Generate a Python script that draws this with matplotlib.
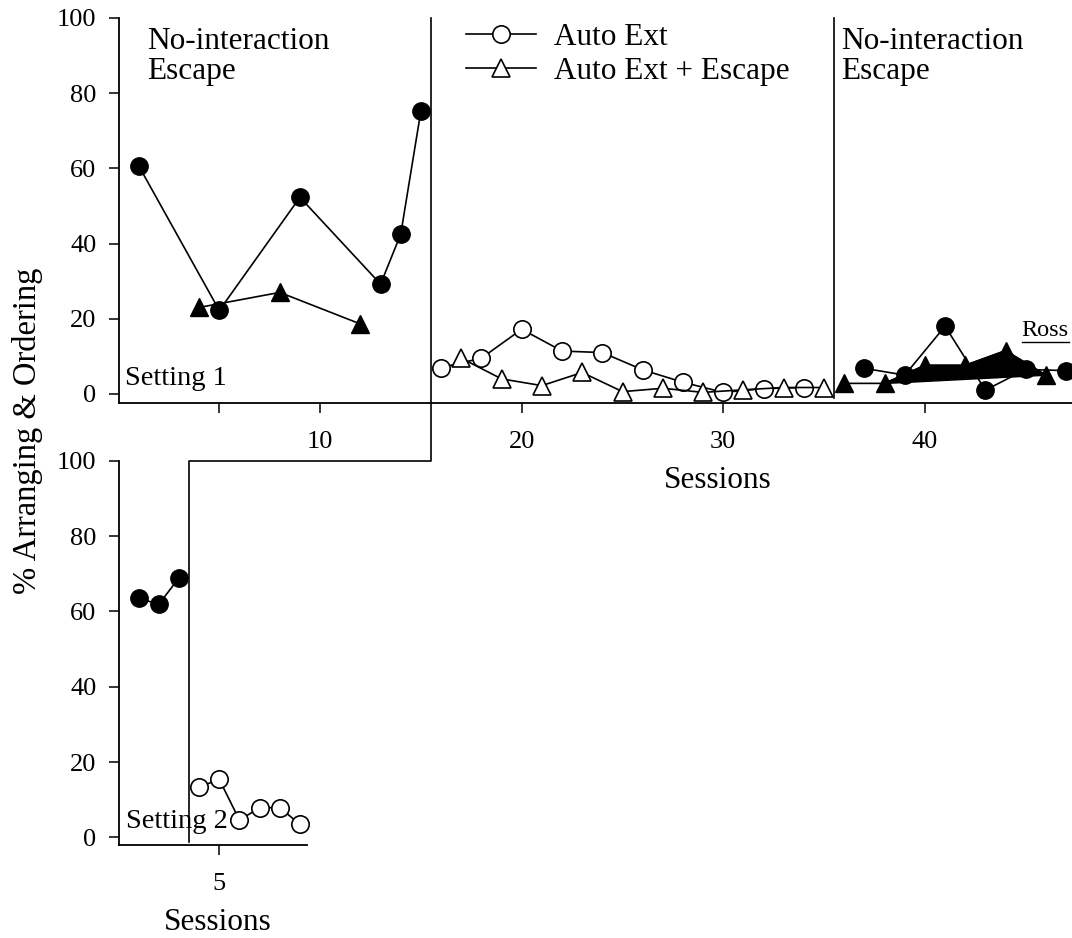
import matplotlib
matplotlib.use("Agg")
import matplotlib.pyplot as plt
from matplotlib.lines import Line2D

plt.rcParams['font.family'] = ['Liberation Serif', 'DejaVu Serif']

# Setting 1 -- phase 1 (no-interaction escape)
s1_base_x = [1, 5, 9, 13, 14, 15]
s1_base_y = [60.7, 22.2, 52.3, 29.2, 42.5, 75.3]
s1_esc_x = [4, 8, 12]
s1_esc_y = [23.0, 27.0, 18.6]

# Setting 1 -- phase 2 (auto ext / auto ext + escape)
s1_ae_x = [16, 18, 20, 22, 24, 26, 28, 30, 32, 34]
s1_ae_y = [7.0, 9.5, 17.2, 11.4, 11.0, 6.4, 3.1, 0.4, 1.4, 1.7]
s1_aee_x = [17, 19, 21, 23, 25, 27, 29, 31, 33, 35]
s1_aee_y = [9.5, 4.0, 2.2, 5.7, 0.6, 1.5, 0.4, 1.1, 1.7, 1.7]

# Setting 1 -- phase 3 (no-interaction escape again)
s1_base2_x = [37, 39, 41, 43, 45, 47]
s1_base2_y = [6.8, 5.0, 18.0, 1.0, 6.5, 6.2]
s1_esc2_x = [36, 38, 40, 42, 44, 46]
s1_esc2_y = [2.8, 2.8, 7.6, 7.6, 11.5, 5.0]

# Setting 2
s2_base_x = [1, 2, 3]
s2_base_y = [63.5, 61.9, 68.9]
s2_ae_x = [4, 5, 6, 7, 8, 9]
s2_ae_y = [13.4, 15.4, 4.6, 7.9, 7.9, 3.5]

yticks = [0, 20, 40, 60, 80, 100]
top_xticks = [5, 10, 20, 30, 40]
top_xticklabels = ['', '10', '20', '30', '40']

phase_top = [15.5, 35.5]
phase_bottom = 3.5

W, H = 1072, 938
fig = plt.figure(figsize=(W / 100, H / 100), dpi=100)
fig.set_facecolor('white')

# top panel runs off the right edge of the figure, like the reference
ax1 = fig.add_axes([118.5 / W, 1 - 403.3 / H, 1008 / W, 385.3 / H])
ax2 = fig.add_axes([118.5 / W, 1 - 845 / H, 188.5 / W, 384.3 / H])

lw = 1.2
filled = dict(color='black', lw=lw, markersize=12.5, markerfacecolor='black',
              markeredgecolor='black', clip_on=False, zorder=3)
opened = dict(color='black', lw=lw, markersize=12.5, markerfacecolor='white',
              markeredgecolor='black', markeredgewidth=1.2, clip_on=False, zorder=3)

ax1.plot(s1_base_x, s1_base_y, marker='o', **filled)
ax1.plot(s1_esc_x, s1_esc_y, marker='^', **dict(filled, markersize=13.5))
ax1.plot(s1_ae_x, s1_ae_y, marker='o', label='Auto Ext', **opened)
ax1.plot(s1_aee_x, s1_aee_y, marker='^', label='Auto Ext + Escape',
         **dict(opened, markersize=13.5))
ax1.plot(s1_base2_x, s1_base2_y, marker='o', **filled)
ax1.plot(s1_esc2_x, s1_esc2_y, marker='^', **dict(filled, markersize=13.5))
# the original render filled the last triangle series as a polygon
ax1.fill(s1_esc2_x[1:], s1_esc2_y[1:], color='black', lw=1.2, zorder=2)

ax2.plot(s2_base_x, s2_base_y, marker='o', **filled)
ax2.plot(s2_ae_x, s2_ae_y, marker='o', **opened)

for ax in (ax1, ax2):
    ax.spines['top'].set_visible(False)
    ax.spines['right'].set_visible(False)
    ax.spines['left'].set_linewidth(1.3)
    ax.spines['bottom'].set_linewidth(1.3)
    ax.set_yticks(yticks)
    ax.tick_params(axis='both', direction='out', length=7, width=1.1,
                   labelsize=19)
    ax.tick_params(axis='y', pad=9)
    ax.tick_params(axis='x', pad=13)
    ax.set_facecolor('none')

ax1.set_xlim(0, 50)
ax1.set_ylim(-2.5, 100)
ax1.set_xticks(top_xticks)
ax1.set_xticklabels(top_xticklabels)
ax1.set_xlabel('Sessions', fontsize=22.5)
ax1.xaxis.set_label_coords(0.594, -0.163)

ax2.set_xlim(0, 9.35)
ax2.set_ylim(-2, 100)
ax2.set_xticks([5])
ax2.set_xlabel('Sessions', fontsize=22.5)
ax2.xaxis.set_label_coords(0.528, -0.163)

fig.text(28 / W, 1 - 431 / H, '% Arranging & Ordering', rotation=90,
         ha='center', va='center', fontsize=23.5)

# phase labels
ax1.text(1.41, 97.5, 'No-interaction\nEscape', fontsize=22.5, va='top',
         ha='left', linespacing=1.05)
ax1.text(35.84, 97.5, 'No-interaction\nEscape', fontsize=22.5, va='top',
         ha='left', linespacing=1.05)
ax1.text(0.3, 2.4, 'Setting 1', fontsize=20.5, va='baseline', ha='left')
ax2.text(0.37, 2.5, 'Setting 2', fontsize=20.5, va='baseline', ha='left')

ross = ax1.text(44.8, 15.5, 'Ross', fontsize=17.5, va='baseline', ha='left')

ax1.legend(loc='upper left', bbox_to_anchor=(466 / W, 1 - 23 / H),
           bbox_transform=fig.transFigure, frameon=False, fontsize=22.5,
           handlelength=2.24, handletextpad=0.58, labelspacing=0.15,
           borderpad=0, borderaxespad=0)

# staggered phase-change line linking the two settings
to_fig = fig.transFigure.inverted()
p_a = to_fig.transform(ax1.transData.transform((phase_top[0], 100)))
p_b = to_fig.transform(ax2.transData.transform((phase_bottom, 100)))
p_c = to_fig.transform(ax2.transData.transform((phase_bottom, -1.2)))
fig.add_artist(Line2D([p_a[0], p_a[0], p_b[0], p_c[0]],
                      [p_a[1], p_b[1], p_b[1], p_c[1]],
                      transform=fig.transFigure, color='black', lw=1.2))
ax1.plot([phase_top[1], phase_top[1]], [100, -1.2], color='black', lw=1.2,
         clip_on=False, zorder=1)

# underline for "Ross"
fig.canvas.draw()
bb = ross.get_window_extent().transformed(to_fig)
fig.add_artist(Line2D([bb.x0, bb.x1], [bb.y0 - 0.001, bb.y0 - 0.001],
                      transform=fig.transFigure, color='black', lw=1.0))

fig.savefig('out.png', dpi=100)
